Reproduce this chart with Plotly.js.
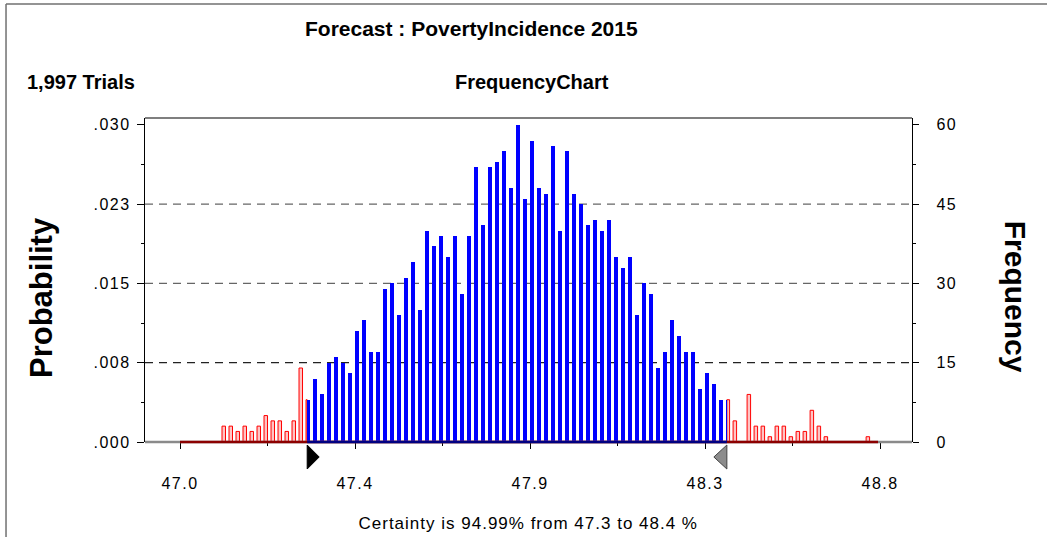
<!DOCTYPE html>
<html>
<head>
<meta charset="utf-8">
<script src="https://cdn.plot.ly/plotly-3.0.1.min.js"></script>
<style>
  html, body { margin: 0; padding: 0; background: #fff; }
  #chart { width: 1047px; height: 537px; }
</style>
</head>
<body>
<div id="chart"></div>
<script>
// ---- Data (Crystal Ball frequency chart, 100 cells, 1,997 trials) ----
const cellMin = 47.0;          // first cell start
const cellWidth = 0.018;       // width of each cell
const frequency = [
  0, 0, 0, 0, 0, 0,
  3, 3, 2, 3, 2, 3, 5, 4, 4, 2, 4, 14, 8,
  12, 9, 15, 16, 15, 13, 21, 23, 17, 17, 29, 30,
  24, 31, 34, 25, 40, 37, 39, 35, 39, 28,
  39, 52, 41, 52, 53, 55, 48, 60, 46, 57,
  48, 47, 56, 40, 55, 47, 45, 41, 42, 40,
  42, 35, 33, 35, 24, 30, 28, 14, 17, 23,
  20, 17, 17, 10, 13, 11, 8, 8, 4, 0,
  9, 3, 3, 1, 3, 3, 1, 2, 2, 6, 3, 1, 0, 0, 0, 0, 0, 1, 0
];
const certaintyLow = 47.327;
const certaintyHigh = 48.406;
const trials = 1997;

const freqTicks = [0, 15, 30, 45, 60];
const probTickText = ['.000', '.008', '.015', '.023', '.030'];
const gridLevels = [15, 30, 45];
const xTickVals = [47.0, 47.45, 47.9, 48.35, 48.8];
const xTickText = ['47.0', '47.4', '47.9', '48.3', '48.8'];

// ---- Build bar segments (split at certainty bounds) ----
const barFrac = 0.5;
const bw = cellWidth * barFrac;
const blue = {x: [], y: [], w: []};
const red = {x: [], y: [], w: []};
frequency.forEach((f, k) => {
  if (f <= 0) return;
  const s = cellMin + k * cellWidth, e = s + bw;
  const bs = Math.max(s, certaintyLow), be = Math.min(e, certaintyHigh);
  if (be > bs) { blue.x.push(bs); blue.y.push(f); blue.w.push(be - bs); }
  if (s < certaintyLow) {
    const re = Math.min(e, certaintyLow);
    red.x.push(s); red.y.push(f); red.w.push(re - s);
  }
  if (e > certaintyHigh) {
    const rs = Math.max(s, certaintyHigh);
    red.x.push(rs); red.y.push(f); red.w.push(e - rs);
  }
});

const traces = [
  {type: 'bar', x: red.x, y: red.y, width: red.w, offset: 0,
   marker: {color: '#ffc4c4', line: {color: '#ff0000', width: 1}},
   hoverinfo: 'skip', showlegend: false},
  {type: 'bar', x: blue.x, y: blue.y, width: blue.w, offset: 0,
   marker: {color: '#0000ff', line: {width: 0}},
   hoverinfo: 'skip', showlegend: false},
  {type: 'scatter', x: [xTickVals[0]], y: [0], yaxis: 'y2', mode: 'markers',
   marker: {opacity: 0}, hoverinfo: 'skip', showlegend: false}
];

const yMax = 61.3;
const xRange = [46.91, 48.882];
const font = 'Liberation Sans, Arial, sans-serif';

const shapes = [];
gridLevels.forEach((g, i) => {
  shapes.push({type: 'line', xref: 'paper', x0: 0, x1: 1, yref: 'y', y0: g, y1: g,
    line: {color: i === 0 ? '#222' : '#666', width: 1.2, dash: '8px,6px'}, layer: 'below'});
});
// baseline segments
shapes.push({type: 'line', xref: 'paper', x0: 0, x1: 1, yref: 'paper', y0: 0, y1: 0,
  line: {color: '#8a8a8a', width: 2.5}, layer: 'above'});
shapes.push({type: 'line', xref: 'x', x0: cellMin, x1: cellMin + cellWidth * (frequency.length - 0.3), yref: 'paper', y0: 0, y1: 0,
  line: {color: '#8b0000', width: 2.5}, layer: 'above'});
shapes.push({type: 'line', xref: 'x', x0: certaintyLow, x1: certaintyHigh, yref: 'paper', y0: 0, y1: 0,
  line: {color: '#000080', width: 2.5}, layer: 'above'});
// certainty grabbers
shapes.push({type: 'path', xref: 'x', yref: 'paper', xsizemode: 'pixel', ysizemode: 'pixel',
  xanchor: certaintyLow, yanchor: 0, path: 'M0,-3 L0,-27 L12,-15 Z',
  fillcolor: '#000', line: {color: '#000', width: 1}, layer: 'above'});
shapes.push({type: 'path', xref: 'x', yref: 'paper', xsizemode: 'pixel', ysizemode: 'pixel',
  xanchor: certaintyHigh, yanchor: 0, path: 'M0,-3 L0,-27 L-13,-15 Z',
  fillcolor: '#8c8c8c', line: {color: '#444', width: 1}, layer: 'above'});
// plot frame top
shapes.push({type: 'line', xref: 'paper', yref: 'paper', x0: 0, x1: 1, y0: 1, y1: 1,
  line: {color: '#000', width: 1.2}});
// outer frame (top + left)
shapes.push({type: 'line', xref: 'paper', yref: 'paper', x0: -0.1812, x1: 1.18, y0: 1.352, y1: 1.352,
  line: {color: '#707070', width: 1.5}});
shapes.push({type: 'line', xref: 'paper', yref: 'paper', x0: -0.1812, x1: -0.1812, y0: 1.352, y1: -0.31,
  line: {color: '#707070', width: 1.5}});

const annotations = [
  {text: '<b>Forecast : PovertyIncidence 2015</b>', xref: 'paper', yref: 'paper',
   x: 0.2056, y: 1.2747, xanchor: 'left', yanchor: 'middle', showarrow: false,
   font: {family: font, size: 21, color: '#000'}},
  {text: '<b>' + trials.toLocaleString('en-US') + ' Trials</b>', xref: 'paper', yref: 'paper',
   x: -0.1565, y: 1.1096, xanchor: 'left', yanchor: 'middle', showarrow: false,
   font: {family: font, size: 20, color: '#000'}},
  {text: '<b>FrequencyChart</b>', xref: 'paper', yref: 'paper',
   x: 0.5046, y: 1.1096, xanchor: 'center', yanchor: 'middle', showarrow: false,
   font: {family: font, size: 20, color: '#000'}},
  {text: '<b>Probability</b>', xref: 'paper', yref: 'paper',
   x: -0.1356, y: 0.4475, xanchor: 'center', yanchor: 'middle', textangle: -90, showarrow: false,
   font: {family: font, size: 31, color: '#000'}},
  {text: '<b>Frequency</b>', xref: 'paper', yref: 'paper',
   x: 1.136, y: 0.4475, xanchor: 'center', yanchor: 'middle', textangle: 90, showarrow: false,
   font: {family: font, size: 30, color: '#000'}},
  {text: 'Certainty is 94.99% from 47.3 to 48.4 %', xref: 'paper', yref: 'paper',
   x: 0.5, y: -0.253, xanchor: 'center', yanchor: 'middle', showarrow: false,
   font: {family: font, size: 17, color: '#000'}}
];

const layout = {
  width: 1047, height: 537,
  margin: {l: 145, r: 135, t: 118, b: 95, pad: 0},
  paper_bgcolor: '#fff', plot_bgcolor: '#fff',
  barmode: 'overlay', bargap: 0,
  showlegend: false,
  font: {family: font, size: 16, color: '#000'},
  xaxis: {
    range: xRange, tickmode: 'array', tickvals: xTickVals, ticktext: xTickText,
    ticks: 'outside', ticklen: 6, tickcolor: '#000', tickwidth: 1,
    showgrid: false, zeroline: false, showline: false,
    ticklabelstandoff: 21,
    tickfont: {family: font, size: 16, color: '#000'},
    minor: {tickmode: 'linear', tick0: 47.0, dtick: 0.225, ticks: 'outside', ticklen: 3, tickcolor: '#000', showgrid: false}
  },
  yaxis: {
    range: [0, yMax], tickmode: 'array', tickvals: freqTicks, ticktext: probTickText,
    ticks: 'outside', ticklen: 7, tickcolor: '#000',
    showgrid: false, zeroline: false, showline: true, linecolor: '#000', linewidth: 1.2,
    ticklabelstandoff: 3,
    tickfont: {family: font, size: 16, color: '#000'},
    minor: {tickmode: 'linear', tick0: 0, dtick: 7.5, ticks: 'outside', ticklen: 3, tickcolor: '#000', showgrid: false}
  },
  yaxis2: {
    range: [0, yMax], overlaying: 'y', side: 'right', tickmode: 'array', tickvals: freqTicks,
    ticktext: freqTicks.map(String),
    ticks: 'outside', ticklen: 6, tickcolor: '#000',
    showgrid: false, zeroline: false, showline: true, linecolor: '#000', linewidth: 1.2,
    ticklabelstandoff: 14,
    tickfont: {family: font, size: 16, color: '#000'},
    minor: {tickmode: 'linear', tick0: 0, dtick: 7.5, ticks: 'outside', ticklen: 3, tickcolor: '#000', showgrid: false}
  },
  shapes: shapes,
  annotations: annotations
};

Plotly.newPlot('chart', traces, layout, {displayModeBar: false, staticPlot: true}).then(gd => {
  // The original renders its regular-weight labels with slightly wide letter spacing
  gd.querySelectorAll('.xtick text, .ytick text, .y2tick text').forEach(t => {
    t.style.letterSpacing = '1.5px';
  });
  const ann = gd.querySelectorAll('.annotation-text');
  ann[ann.length - 1].style.letterSpacing = '1px';
});
</script>
</body>
</html>
